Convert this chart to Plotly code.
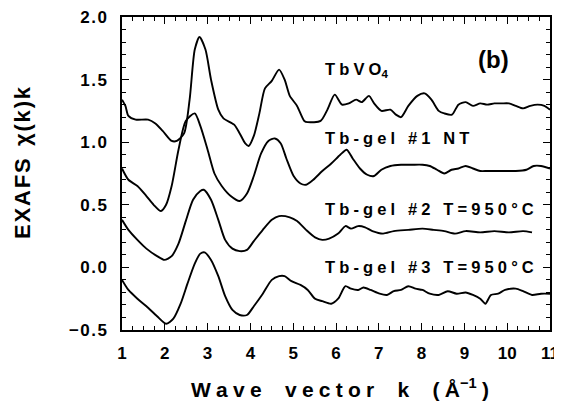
import plotly.graph_objects as go

# ---------------- data ----------------
k_tbvo4 = [1.00, 1.08, 1.15, 1.32, 1.61, 1.78, 1.95, 2.16, 2.28, 2.45, 2.58, 2.70, 2.81, 2.95, 3.08,
           3.25, 3.37, 3.62, 3.75, 3.88, 3.96, 4.08, 4.21, 4.34, 4.50, 4.67, 4.80, 4.92, 5.09, 5.26,
           5.34, 5.64, 5.80, 5.97, 6.14, 6.30, 6.47, 6.60, 6.77, 6.89, 7.06, 7.27, 7.40, 7.52, 7.69,
           7.90, 8.07, 8.23, 8.40, 8.53, 8.71, 8.86, 9.03, 9.20, 9.37, 9.53, 9.70, 9.87, 10.04, 10.20,
           10.37, 10.54, 10.71, 10.87, 11.00]
y_tbvo4 = [1.34, 1.29, 1.21, 1.18, 1.18, 1.15, 1.09, 1.01, 1.01, 1.07, 1.34, 1.74, 1.84, 1.74, 1.50,
           1.26, 1.19, 1.14, 1.07, 0.99, 0.97, 1.05, 1.23, 1.43, 1.49, 1.58, 1.50, 1.37, 1.29, 1.17,
           1.16, 1.17, 1.26, 1.38, 1.30, 1.31, 1.34, 1.32, 1.37, 1.31, 1.25, 1.26, 1.22, 1.20, 1.29,
           1.37, 1.39, 1.34, 1.25, 1.23, 1.22, 1.30, 1.32, 1.29, 1.31, 1.30, 1.31, 1.31, 1.31, 1.29,
           1.27, 1.29, 1.30, 1.29, 1.26]

k_gel1 = [1.00, 1.15, 1.36, 1.57, 1.74, 1.91, 2.03, 2.16, 2.32, 2.49, 2.70, 2.83, 3.00, 3.16, 3.33,
          3.54, 3.75, 3.92, 4.08, 4.25, 4.42, 4.57, 4.71, 4.84, 5.01, 5.17, 5.30, 5.47, 5.68, 5.89,
          6.10, 6.25, 6.39, 6.56, 6.73, 6.89, 7.06, 7.27, 7.52, 7.77, 8.02, 8.19, 8.36, 8.53, 8.70,
          8.86, 9.03, 9.20, 9.37, 9.53, 9.74, 9.95, 10.20, 10.45, 10.62, 10.79, 11.00]
y_gel1 = [0.79, 0.70, 0.65, 0.57, 0.50, 0.45, 0.50, 0.65, 0.94, 1.17, 1.23, 1.13, 0.94, 0.75, 0.65,
          0.57, 0.53, 0.59, 0.73, 0.91, 1.01, 1.03, 0.99, 0.87, 0.73, 0.67, 0.66, 0.70, 0.77, 0.83,
          0.90, 0.94, 0.87, 0.79, 0.74, 0.73, 0.78, 0.81, 0.82, 0.82, 0.82, 0.81, 0.78, 0.75, 0.78,
          0.79, 0.81, 0.79, 0.77, 0.77, 0.77, 0.77, 0.77, 0.78, 0.81, 0.81, 0.79]

k_gel2 = [1.00, 1.15, 1.36, 1.57, 1.82, 1.99, 2.16, 2.32, 2.49, 2.66, 2.83, 2.91, 3.08, 3.25, 3.41,
          3.58, 3.75, 3.92, 4.08, 4.29, 4.50, 4.67, 4.92, 5.09, 5.30, 5.51, 5.68, 5.84, 6.05, 6.22,
          6.35, 6.52, 6.68, 6.85, 7.10, 7.35, 7.69, 8.02, 8.28, 8.53, 8.78, 9.03, 9.37, 9.70, 10.04,
          10.37, 10.58]
y_gel2 = [0.38, 0.30, 0.22, 0.15, 0.09, 0.06, 0.09, 0.19, 0.37, 0.54, 0.61, 0.62, 0.54, 0.38, 0.22,
          0.15, 0.13, 0.14, 0.21, 0.30, 0.38, 0.41, 0.40, 0.37, 0.30, 0.24, 0.22, 0.23, 0.27, 0.33,
          0.31, 0.33, 0.32, 0.29, 0.27, 0.29, 0.30, 0.31, 0.30, 0.29, 0.27, 0.29, 0.28, 0.29, 0.28,
          0.29, 0.28]

k_gel3 = [1.00, 1.15, 1.36, 1.57, 1.82, 2.03, 2.20, 2.37, 2.53, 2.70, 2.83, 2.93, 3.08, 3.25, 3.41,
          3.58, 3.75, 3.92, 4.08, 4.29, 4.50, 4.67, 4.80, 4.96, 5.17, 5.34, 5.51, 5.68, 5.89, 6.05,
          6.22, 6.35, 6.52, 6.64, 6.81, 7.02, 7.19, 7.35, 7.52, 7.69, 7.86, 8.02, 8.19, 8.40, 8.61,
          8.82, 9.03, 9.20, 9.37, 9.49, 9.62, 9.79, 9.95, 10.20, 10.37, 10.58, 10.79, 11.00]
y_gel3 = [-0.10, -0.18, -0.25, -0.31, -0.39, -0.45, -0.41, -0.29, -0.13, 0.03, 0.11, 0.12, 0.06, -0.07, -0.23,
          -0.34, -0.38, -0.38, -0.31, -0.21, -0.10, -0.07, -0.07, -0.11, -0.14, -0.18, -0.25, -0.27, -0.29, -0.25,
          -0.15, -0.17, -0.18, -0.16, -0.18, -0.21, -0.22, -0.19, -0.18, -0.15, -0.17, -0.18, -0.21, -0.22, -0.19,
          -0.21, -0.20, -0.22, -0.25, -0.29, -0.22, -0.21, -0.18, -0.17, -0.19, -0.22, -0.21, -0.21]

x_tickvals = [1, 2, 3, 4, 5, 6, 7, 8, 9, 10, 11]
y_tickvals = [-0.5, 0.0, 0.5, 1.0, 1.5, 2.0]
y_ticktext = ["\u22120.5", "0.0", "0.5", "1.0", "1.5", "2.0"]

series = [
    (k_tbvo4, y_tbvo4, "TbVO4"),
    (k_gel1, y_gel1, "Tb-gel #1 NT"),
    (k_gel2, y_gel2, "Tb-gel #2 T=950°C"),
    (k_gel3, y_gel3, "Tb-gel #3 T=950°C"),
]

SP = "\u2005"   # four-per-em space used as letter spacing
HS = "\u200a"   # hair space


def spaced(s, sep=SP):
    return sep.join(s)


label_items = [
    (spaced("TbVO") + "<sub>4</sub>", 5.70, 1.58),
    (spaced("Tb-gel #1 NT"), 5.70, 1.03),
    (spaced("Tb-gel #2 T=950°C"), 5.70, 0.47),
    (spaced("Tb-gel #3 T=950°C"), 5.70, 0.00),
]

FONT = "Liberation Sans"

fig = go.Figure()
for kx, yy, nm in series:
    fig.add_trace(go.Scatter(x=kx, y=yy, mode="lines", name=nm,
                             line=dict(color="black", width=1.9, shape="spline", smoothing=0.7),
                             showlegend=False, hoverinfo="skip"))

for txt, kx, yy in label_items:
    fig.add_annotation(x=kx, y=yy, xref="x", yref="y", text=txt, showarrow=False,
                       xanchor="left", yanchor="middle",
                       font=dict(family=FONT, size=16.5, color="black", weight="bold"))

fig.add_annotation(x=9.69, y=1.66, xref="x", yref="y", text="(b)", showarrow=False,
                   xanchor="center", yanchor="middle",
                   font=dict(family=FONT, size=24, color="black", weight="bold"))

# axis titles
fig.add_annotation(x=0.509, y=-0.185, xref="paper", yref="paper",
                   text=spaced("Wave") + "    " + spaced("vector") + "    k    " + spaced("(Å") + "<sup>\u22121</sup>" + SP + ")",
                   showarrow=False, xanchor="center", yanchor="middle",
                   font=dict(family=FONT, size=21, color="black", weight="bold"))
fig.add_annotation(x=-0.231, y=0.534, xref="paper", yref="paper",
                   text=spaced("EXAFS", HS) + "  " + spaced("χ(k)k", HS),
                   textangle=-90, showarrow=False, xanchor="center", yanchor="middle",
                   font=dict(family=FONT, size=22, color="black", weight="bold"))

axis_common = dict(showgrid=False, zeroline=False, showline=True, linecolor="black", linewidth=1.5,
                   mirror="allticks", ticks="inside", ticklen=7, tickwidth=1.3, tickcolor="black",
                   automargin=False, ticklabeloverflow="allow",
                   tickfont=dict(family=FONT, size=17, color="black", weight="bold"))

fig.update_xaxes(range=[1, 11], tickmode="array", tickvals=x_tickvals,
                 ticktext=[str(v) for v in x_tickvals],
                 minor=dict(dtick=0.25, ticks="inside", ticklen=4, tickcolor="black", tickwidth=1),
                 ticklabelstandoff=7, **axis_common)
fig.update_yaxes(range=[-0.5, 2.0], tickmode="array", tickvals=y_tickvals,
                 ticktext=[spaced(t, HS) for t in y_ticktext],
                 minor=dict(dtick=0.1, ticks="inside", ticklen=4, tickcolor="black", tickwidth=1),
                 ticklabelstandoff=10, **axis_common)

# the page body adds an 8 px offset, so the figure is sized to land the plot box
# at the reference position inside the 562x411 window
fig.update_layout(width=554, height=403, margin=dict(l=114, r=12, t=9, b=81),
                  plot_bgcolor="white", paper_bgcolor="white")

fig.write_html("out.html")
